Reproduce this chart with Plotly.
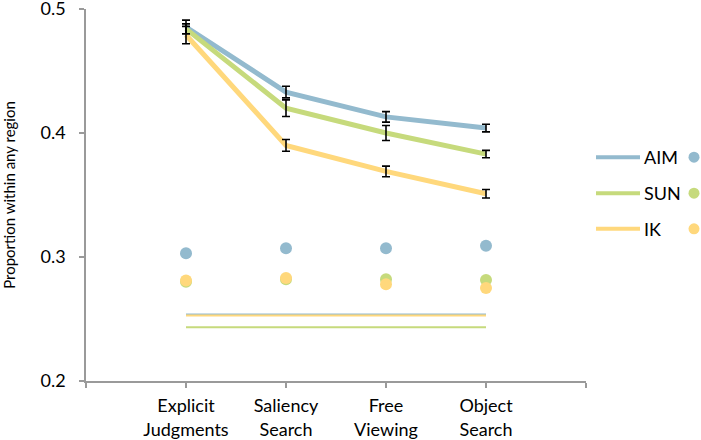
import plotly.graph_objects as go

categories = ["Explicit<br>Judgments", "Saliency<br>Search", "Free<br>Viewing", "Object<br>Search"]
series = ["AIM", "SUN", "IK"]
colors = {"AIM": "#93BACE", "SUN": "#C6DA7C", "IK": "#FFD87C"}

line_vals = {
    "AIM": [0.4855, 0.433, 0.413, 0.404],
    "SUN": [0.484, 0.420, 0.400, 0.383],
    "IK":  [0.479, 0.390, 0.369, 0.351],
}
line_err = {
    "AIM": [0.0055, 0.0047, 0.0042, 0.0031],
    "SUN": [0.004, 0.0067, 0.0061, 0.003],
    "IK":  [0.007, 0.0047, 0.0043, 0.0034],
}
dot_vals = {
    "AIM": [0.303, 0.307, 0.307, 0.309],
    "SUN": [0.280, 0.282, 0.282, 0.2815],
    "IK":  [0.281, 0.283, 0.278, 0.275],
}
chance = {"AIM": 0.2537, "SUN": 0.2433, "IK": 0.2529}

x = list(range(len(categories)))
fig = go.Figure()

# chance lines
for s in ["AIM", "IK", "SUN"]:
    fig.add_trace(go.Scatter(x=[x[0], x[-1]], y=[chance[s]] * 2, mode="lines",
                             line=dict(color=colors[s], width=2), showlegend=False, hoverinfo="skip"))

# dots
for s in series:
    fig.add_trace(go.Scatter(x=x, y=dot_vals[s], mode="markers",
                             marker=dict(color=colors[s], size=12), showlegend=False))

# lines
for s in series:
    fig.add_trace(go.Scatter(x=x, y=line_vals[s], mode="lines",
                             line=dict(color=colors[s], width=5), showlegend=False))

# error bars on top
for s in series:
    fig.add_trace(go.Scatter(x=x, y=line_vals[s], mode="markers",
                             marker=dict(size=1, color="rgba(0,0,0,0)"),
                             error_y=dict(type="data", array=line_err[s], color="black",
                                          thickness=1.6, width=4),
                             showlegend=False))

# manual legend
leg_y = [0.6016, 0.505, 0.409]
for s, yy in zip(series, leg_y):
    fig.add_shape(type="line", xref="paper", yref="paper", x0=1.02, x1=1.108, y0=yy, y1=yy,
                  line=dict(color=colors[s], width=4))
    fig.add_annotation(xref="paper", yref="paper", x=1.112, y=yy, text=s, showarrow=False,
                       xanchor="left", yanchor="middle", font=dict(size=18, color="black"))
    fig.add_shape(type="circle", xref="paper", yref="paper", xsizemode="pixel", ysizemode="pixel",
                  xanchor=1.216, yanchor=yy, x0=-5.5, x1=5.5, y0=-5.5, y1=5.5,
                  fillcolor=colors[s], line=dict(width=0))

fig.update_layout(
    width=701, height=440,
    margin=dict(l=86, r=115, t=9, b=59),
    paper_bgcolor="white", plot_bgcolor="white",
    font=dict(family="Lato", size=18, color="black"),
    showlegend=False,
)
fig.update_xaxes(range=[-1, 4], tickvals=[-1, 0, 1, 2, 3, 4],
                 ticktext=[""] + categories + [""], automargin=False,
                 ticklabelstandoff=3,
                 showgrid=False, zeroline=False, showline=True, linecolor="#9a9a9a", linewidth=1.5,
                 ticks="outside", ticklen=5, tickcolor="#9a9a9a", tickwidth=1.5,
                 tickfont=dict(size=18))
fig.update_yaxes(range=[0.2, 0.5], tickvals=[0.2, 0.3, 0.4, 0.5], tickformat=".1f",
                 automargin=False, ticklabelstandoff=10, ticklabeloverflow="allow",
                 showgrid=False, zeroline=False, showline=True, linecolor="#9a9a9a", linewidth=1.5,
                 ticks="outside", ticklen=5, tickcolor="#9a9a9a", tickwidth=1.5,
                 tickfont=dict(size=18),
                 title=dict(text="Proportion within any region", font=dict(size=15), standoff=22))

fig.write_html("out.html", config={"displayModeBar": False},
               post_script="document.body.style.margin='0';")
